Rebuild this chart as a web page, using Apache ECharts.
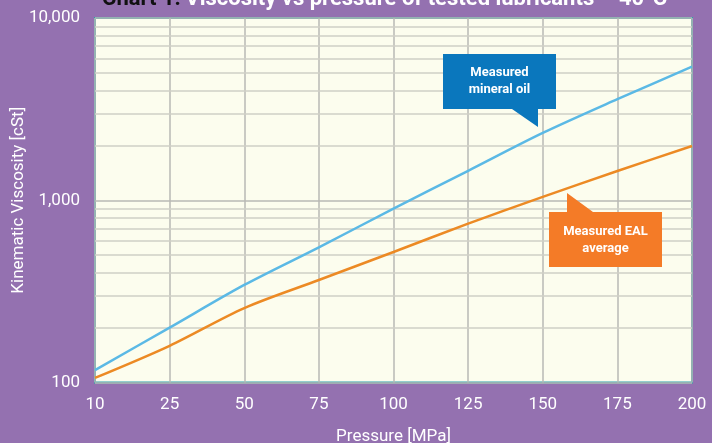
<!DOCTYPE html>
<html>
<head>
<meta charset="utf-8">
<script src="https://cdn.jsdelivr.net/npm/echarts@6/dist/echarts.min.js"></script>
<style>
  html, body { margin: 0; padding: 0; background: #9471b0; }
  #chart { width: 712px; height: 443px; }
</style>
</head>
<body>
<div id="chart"></div>
<script>
// Pressure steps (MPa), drawn evenly spaced
const pressures = ['10', '25', '50', '75', '100', '125', '150', '175', '200'];
// Kinematic viscosity (cSt) at each pressure step
const mineralOil = [117, 200, 343, 552, 899, 1450, 2340, 3585, 5410];
const ealAverage = [106, 159, 256, 365, 520, 744, 1043, 1448, 1986];
// Minor log gridlines between the decades
const minorLevels = [200, 300, 400, 500, 600, 700, 800, 900,
                     2000, 3000, 4000, 5000, 6000, 7000, 8000, 9000];

const FONT = 'Roboto';
const chart = echarts.init(document.getElementById('chart'));

function calloutText(x, y, text) {
  return {
    type: 'text',
    x: x, y: y,
    z: 101,
    style: {
      text: text,
      fill: '#ffffff',
      fontFamily: FONT,
      fontWeight: 'bold',
      fontSize: 13,
      lineHeight: 17,
      align: 'center',
      verticalAlign: 'middle'
    }
  };
}

chart.setOption({
  backgroundColor: '#9471b0',
  animation: false,
  textStyle: { fontFamily: FONT },
  title: {
    left: 97,
    top: -17,
    text: '{a|Chart 1:} {b|Viscosity vs pressure of tested lubricants \u2013 40\u00b0C}',
    textStyle: {
      rich: {
        a: { color: '#111111', fontSize: 22, fontWeight: 'bold', fontFamily: FONT },
        b: { color: '#ffffff', fontSize: 22, fontWeight: 'bold', fontFamily: FONT }
      }
    }
  },
  grid: {
    left: 95, right: 20, top: 18, bottom: 60.5,
    outerBoundsMode: 'none',
    containLabel: false,
    show: true,
    backgroundColor: '#fcfdee',
    borderColor: '#2a9fab',
    borderWidth: 2
  },
  xAxis: {
    type: 'category',
    data: pressures,
    boundaryGap: false,
    name: 'Pressure [MPa]',
    nameLocation: 'middle',
    nameGap: 46,
    nameMoveOverlap: false,
    nameTextStyle: { color: '#ffffff', fontSize: 17, fontFamily: FONT },
    axisLine: { show: false },
    axisTick: { show: false },
    axisLabel: { color: '#ffffff', fontSize: 17, margin: 14, fontFamily: FONT },
    splitLine: { show: true, lineStyle: { color: '#b9b9b4', width: 1.5 } }
  },
  yAxis: {
    type: 'log',
    logBase: 10,
    min: 100,
    max: 10000,
    name: 'Kinematic Viscosity [cSt]',
    nameLocation: 'middle',
    nameGap: 68,
    nameMoveOverlap: false,
    nameTextStyle: { color: '#ffffff', fontSize: 17, fontFamily: FONT },
    axisLine: { show: false },
    axisTick: { show: false },
    axisLabel: {
      color: '#ffffff', fontSize: 17, margin: 15, fontFamily: FONT,
      formatter: v => Number(v).toLocaleString('en-US')
    },
    splitLine: { show: true, lineStyle: { color: '#b9b9b4', width: 1.5 } }
  },
  series: [
    {
      // carrier for the minor horizontal gridlines, kept beneath the curves
      type: 'line',
      data: [],
      z: 1,
      silent: true,
      markLine: {
        silent: true,
        symbol: 'none',
        label: { show: false },
        lineStyle: { color: '#cfcfc6', width: 1.5, type: 'solid' },
        data: minorLevels.map(v => ({ yAxis: v }))
      }
    },
    {
      name: 'Measured mineral oil',
      type: 'line',
      data: mineralOil,
      smooth: 0.3,
      symbol: 'none',
      z: 5,
      lineStyle: { color: '#5bb9e5', width: 2.5 }
    },
    {
      name: 'Measured EAL average',
      type: 'line',
      data: ealAverage,
      smooth: 0.3,
      symbol: 'none',
      z: 5,
      lineStyle: { color: '#ec8a24', width: 2.5 }
    }
  ],
  graphic: [
    {
      type: 'polygon',
      z: 100,
      shape: { points: [[443, 54], [556, 54], [556, 109], [538, 109], [538, 127], [512, 109], [443, 109]] },
      style: { fill: '#0a77bd' }
    },
    calloutText(499.5, 81.5, 'Measured\nmineral oil'),
    {
      type: 'polygon',
      z: 100,
      shape: { points: [[549, 212], [567, 212], [567, 193], [593, 212], [662, 212], [662, 267], [549, 267]] },
      style: { fill: '#f47b27' }
    },
    calloutText(605.5, 240, 'Measured EAL\naverage')
  ]
});
</script>
</body>
</html>
